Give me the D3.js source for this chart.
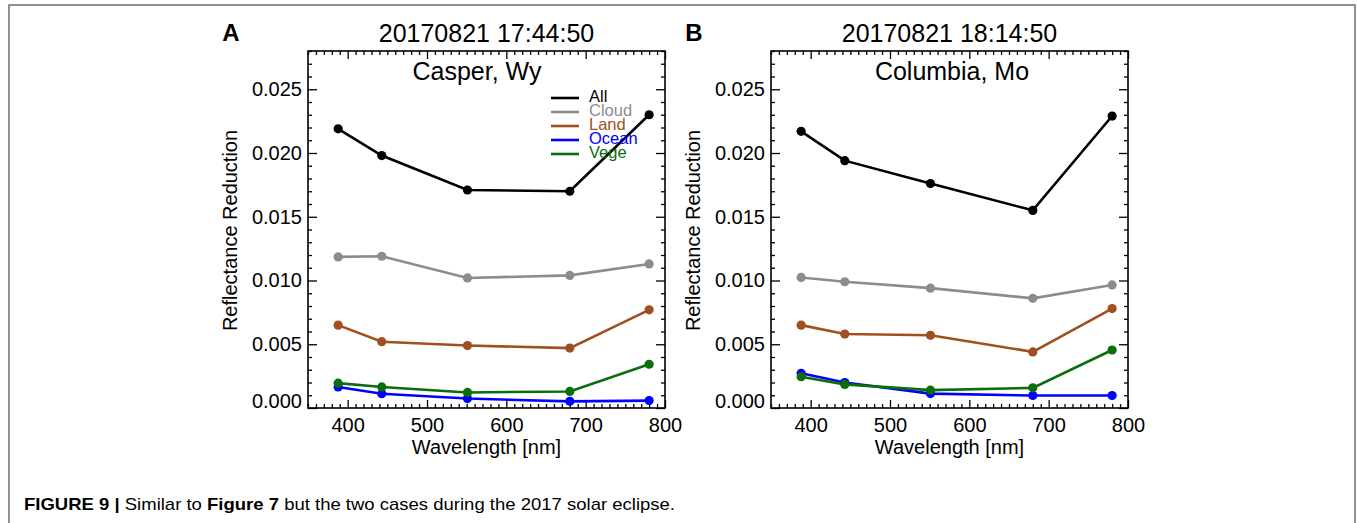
<!DOCTYPE html>
<html>
<head>
<meta charset="utf-8">
<script src="https://cdn.jsdelivr.net/npm/d3@7"></script>
<style>
  body { margin: 0; background: #fff; }
  text { font-family: "Liberation Sans", Arial, Helvetica, sans-serif; fill: #000; }
</style>
</head>
<body>
<script>
// wavelengths of the 5 channels (nm)
var wavelengths = [388, 443, 551, 680, 780];

var seriesNames = ["All", "Cloud", "Land", "Ocean", "Vege"];
var seriesColors = ["#000000", "#8c8c8c", "#a0501e", "#0000ff", "#0a6e0a"];

// panel A : Casper, Wy
var casperAll   = [0.0219, 0.0198, 0.0171, 0.0170, 0.0230];
var casperCloud = [0.01185, 0.0119, 0.0102, 0.0104, 0.0113];
var casperLand  = [0.0065, 0.0052, 0.0049, 0.0047, 0.0077];
var casperOcean = [0.00165, 0.00112, 0.00074, 0.00052, 0.00058];
var casperVege  = [0.00195, 0.00165, 0.00122, 0.00130, 0.00343];

// panel B : Columbia, Mo
var columbiaAll   = [0.0217, 0.0194, 0.0176, 0.0155, 0.0229];
var columbiaCloud = [0.01024, 0.0099, 0.0094, 0.0086, 0.00965];
var columbiaLand  = [0.0065, 0.0058, 0.0057, 0.0044, 0.0078];
var columbiaOcean = [0.00272, 0.00200, 0.00113, 0.00098, 0.00098];
var columbiaVege  = [0.00245, 0.00185, 0.00140, 0.00158, 0.00455];

var xTicks = [400, 500, 600, 700, 800];
var yTicks = [0, 0.005, 0.010, 0.015, 0.020, 0.025];

var panels = [
  { letter: "A", time: "20170821 17:44:50", place: "Casper, Wy", placeX: 169, left: 308, legend: true,
    series: [casperAll, casperCloud, casperLand, casperOcean, casperVege] },
  { letter: "B", time: "20170821 18:14:50", place: "Columbia, Mo", placeX: 181, left: 771, legend: false,
    series: [columbiaAll, columbiaCloud, columbiaLand, columbiaOcean, columbiaVege] }
];

var W = 1357, H = 523;
var svg = d3.select("body").append("svg").attr("width", W).attr("height", H);

// outer frame of the figure
svg.append("rect")
  .attr("x", 9).attr("y", 5)
  .attr("width", 1346).attr("height", 600)
  .attr("fill", "none")
  .attr("stroke", "#6e6e6e")
  .attr("stroke-width", 1.5);

var plotTop = 51, pw = 357, ph = 357;

panels.forEach(function(p) {
  var g = svg.append("g").attr("transform", "translate(" + p.left + "," + plotTop + ")");

  var x = d3.scaleLinear().domain([350, 800]).range([0, pw]);
  var y = d3.scaleLinear().domain([0, 0.028]).range([ph, 0]);

  var minorX = d3.range(350, 801, 10).filter(function(v) { return v % 100 != 0; });
  var minorY = d3.range(0, 28.5, 1).map(function(v) { return v / 1000; })
    .filter(function(v) { return Math.round(v * 1000) % 5 != 0; });

  // ticks on all four sides, pointing inward
  var axB = d3.axisBottom(x).tickValues(xTicks).tickSize(-8).tickPadding(15).tickFormat(d3.format("d"));
  var axT = d3.axisTop(x).tickValues(xTicks).tickSize(-8).tickFormat("");
  var axL = d3.axisLeft(y).tickValues(yTicks).tickSize(-9).tickPadding(15).tickFormat(d3.format(".3f"));
  var axR = d3.axisRight(y).tickValues(yTicks).tickSize(-9).tickFormat("");

  var gB = g.append("g").attr("transform", "translate(0," + ph + ")").call(axB);
  g.append("g").attr("transform", "translate(0," + ph + ")")
    .call(d3.axisBottom(x).tickValues(minorX).tickSize(-4).tickFormat(""));
  g.append("g").call(axT);
  g.append("g").call(d3.axisTop(x).tickValues(minorX).tickSize(-4).tickFormat(""));
  var gL = g.append("g").call(axL);
  g.append("g").call(d3.axisLeft(y).tickValues(minorY).tickSize(-4).tickFormat(""));
  g.append("g").attr("transform", "translate(" + pw + ",0)").call(axR);
  g.append("g").attr("transform", "translate(" + pw + ",0)")
    .call(d3.axisRight(y).tickValues(minorY).tickSize(-4).tickFormat(""));

  g.selectAll(".domain").remove();
  g.selectAll(".tick line").attr("stroke", "#000").attr("stroke-width", 1.3);
  g.selectAll(".tick text").style("font-size", "20px")
    .style("font-family", "'Liberation Sans', Arial, sans-serif").attr("fill", "#000");
  gL.selectAll(".tick text").attr("x", -6);
  gB.selectAll(".tick text").attr("y", 10);
  // bottom y label sits a little higher
  gL.selectAll(".tick text").filter(function(d) { return d === 0; }).attr("dy", "-0.02em");

  g.append("rect")
    .attr("width", pw).attr("height", ph)
    .attr("fill", "none").attr("stroke", "#000").attr("stroke-width", 1.6);

  // lines and points
  var line = d3.line()
    .x(function(d, i) { return x(wavelengths[i]); })
    .y(function(d) { return y(d); });

  p.series.forEach(function(vals, k) {
    g.append("path")
      .datum(vals)
      .attr("d", line)
      .attr("fill", "none")
      .attr("stroke", seriesColors[k])
      .attr("stroke-width", 2.6);
    g.selectAll(null)
      .data(vals)
      .enter()
      .append("circle")
      .attr("cx", function(d, i) { return x(wavelengths[i]); })
      .attr("cy", function(d) { return y(d); })
      .attr("r", 4.6)
      .attr("fill", seriesColors[k]);
  });

  // titles
  svg.append("text")
    .attr("x", p.left - 77).attr("y", 41)
    .attr("text-anchor", "middle")
    .style("font-size", "24px").style("font-weight", "bold")
    .text(p.letter);
  svg.append("text")
    .attr("x", p.left + pw / 2).attr("y", 41.5)
    .attr("text-anchor", "middle")
    .style("font-size", "25px")
    .text(p.time);
  g.append("text")
    .attr("x", p.placeX).attr("y", 29)
    .attr("text-anchor", "middle")
    .style("font-size", "25px")
    .text(p.place);

  // axis titles
  g.append("text")
    .attr("x", pw / 2).attr("y", ph + 46)
    .attr("text-anchor", "middle")
    .style("font-size", "20px")
    .text("Wavelength [nm]");
  g.append("text")
    .attr("transform", "translate(-71," + (ph / 2 + 1) + ") rotate(-90)")
    .attr("text-anchor", "middle")
    .style("font-size", "20px")
    .text("Reflectance Reduction");

  if (p.legend) {
    var lg = g.append("g").attr("transform", "translate(243,47)");
    seriesNames.forEach(function(name, k) {
      lg.append("line")
        .attr("x1", 0).attr("x2", 28)
        .attr("y1", k * 14).attr("y2", k * 14)
        .attr("stroke", seriesColors[k]).attr("stroke-width", 2.6);
      lg.append("text")
        .attr("x", 38).attr("y", k * 14 + 4)
        .style("font-size", "16.5px")
        .style("fill", seriesColors[k])
        .text(name);
    });
  }
});

// caption
var cap = svg.append("text")
  .attr("x", 24).attr("y", 510)
  .style("font-size", "17px")
  .attr("textLength", 651)
  .attr("lengthAdjust", "spacingAndGlyphs");
cap.append("tspan").style("font-weight", "bold").text("FIGURE 9 | ");
cap.append("tspan").text("Similar to ");
cap.append("tspan").style("font-weight", "bold").text("Figure 7");
cap.append("tspan").text(" but the two cases during the 2017 solar eclipse.");
</script>
</body>
</html>
